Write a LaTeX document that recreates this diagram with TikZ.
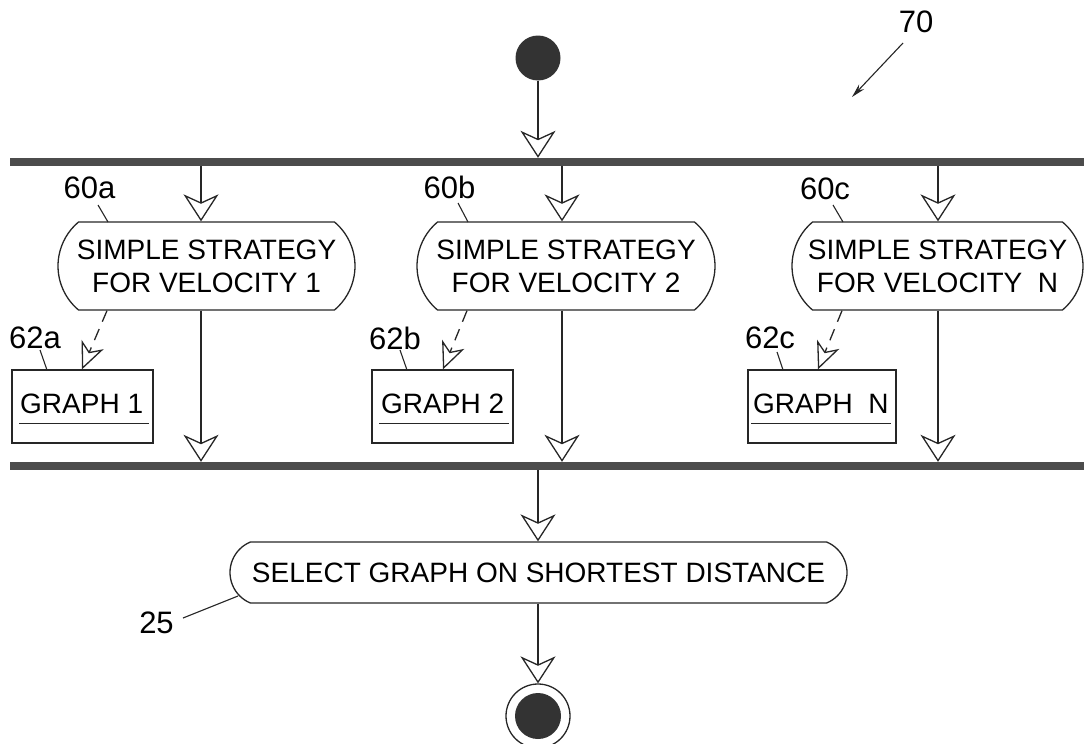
\documentclass[tikz,border=0pt]{standalone}
\usepackage{fontspec}
\setmainfont{Liberation Sans}
\usetikzlibrary{arrows.meta,shapes.misc,calc}
\begin{document}
\begin{tikzpicture}[x=1pt,y=-1pt,
  every node/.style={font=\fontsize{28}{33}\selectfont,inner sep=0pt},
  ln/.style={line width=1.3pt,black!85},
  barnode/.style={rectangle,fill=black!70,minimum height=8pt,minimum width=1074pt,anchor=west},
  flow/.style={ln,-{Stealth[open,length=27pt,width=35pt,inset=8pt,line width=1.3pt]}},
  dflow/.style={ln,dash pattern=on 12pt off 8pt,-{Stealth[open,length=27pt,width=24pt,inset=8pt,line width=1.3pt]}},
  stadium/.style={ln,draw,rounded rectangle,rounded rectangle arc length=100,minimum height=88pt,align=center,text=black},
  gbox/.style={ln,draw,rectangle,minimum width=141pt,minimum height=73pt},
  lead/.style={line width=1.1pt,black!85},
  refnum/.style={font=\fontsize{31}{33}\selectfont},
]
\useasboundingbox (0,0) rectangle (1084,744);

% column axes
\coordinate (x0) at (538,0);
\coordinate (x1) at (201,0);
\coordinate (x2) at (562,0);
\coordinate (x3) at (938,0);
\coordinate (d1a) at (107,0); \coordinate (d1b) at (82,0);
\coordinate (d2a) at (467,0); \coordinate (d2b) at (443,0);
\coordinate (d3a) at (842,0); \coordinate (d3b) at (818,0);

% start
\node[circle,fill=black!80,minimum size=45pt] (start) at (538,58) {};

% bars
\node[barnode] (top) at (10,162) {};
\node[barnode] (bot) at (10,466) {};

% activities
\node[stadium,minimum width=297pt] (n1) at (206.5,266) {SIMPLE STRATEGY\\FOR VELOCITY 1};
\node[stadium,minimum width=298pt] (n2) at (566,266) {SIMPLE STRATEGY\\FOR VELOCITY 2};
\node[stadium,minimum width=291pt] (n3) at (937.5,266) {SIMPLE STRATEGY\\FOR VELOCITY\ \ N};

% graph boxes
\node[gbox] (g1) at (82.5,406.5) {};
\node[gbox,minimum width=141pt] (g2) at (442.5,406.5) {};
\node[gbox,minimum width=148pt] (g3) at (822,406.5) {};
\node[anchor=base west] (gt1) at (20,413) {GRAPH 1};
\node[anchor=base west] (gt2) at (381,413) {GRAPH 2};
\node[anchor=base west] (gt3) at (753,413) {GRAPH\ \ N};
\draw[ln] ($(g1.south west)+(8,-20)$) -- ($(g1.south east)+(-5,-20)$);
\draw[ln] ($(g2.south west)+(8,-20)$) -- ($(g2.south east)+(-5,-20)$);
\draw[ln] ($(g3.south west)+(4,-20)$) -- ($(g3.south east)+(-6,-20)$);

% select
\node[stadium,minimum width=617pt,minimum height=61pt,rounded rectangle arc length=135] (sel) at (538.5,572.5) {SELECT GRAPH ON SHORTEST DISTANCE};

% end
\node[circle,ln,draw,minimum size=64pt] (endo) at (538,716) {};
\node[circle,fill=black!80,minimum size=46pt] (endi) at (538,716) {};

% flows
\draw[flow] (start.south) -- (top.north -| x0);
\draw[flow] (top.south -| x1) -- (n1.north -| x1);
\draw[flow] (top.south -| x2) -- (n2.north -| x2);
\draw[flow] (top.south -| x3) -- (n3.north -| x3);
\draw[flow] (n1.south -| x1) -- (bot.north -| x1);
\draw[flow] (n2.south -| x2) -- (bot.north -| x2);
\draw[flow] (n3.south -| x3) -- (bot.north -| x3);
\draw[dflow] (n1.south -| d1a) -- (g1.north -| d1b);
\draw[dflow] (n2.south -| d2a) -- (g2.north -| d2b);
\draw[dflow] (n3.south -| d3a) -- (g3.north -| d3b);
\draw[flow] (bot.south -| x0) -- (sel.north -| x0);
\draw[flow] (sel.south -| x0) -- (endo.north);

% reference labels
\node[refnum] (l60a) at (89.5,187.5) {60a};
\node[refnum] (l62a) at (35,337.5) {62a};
\node[refnum] (l60b) at (449.5,187.5) {60b};
\node[refnum] (l62b) at (395,338.5) {62b};
\node[refnum] (l60c) at (825,188.5) {60c};
\node[refnum] (l62c) at (770,337.5) {62c};
\node[refnum] (l25) at (156.5,623) {25};
\node[refnum] (l70) at (916,22) {70};
\draw[lead] (98,205) -- (108,222);
\draw[lead] (40,350) -- (47,370);
\draw[lead] (458,203) -- (468,222);
\draw[lead] (400,350) -- (407,370);
\draw[lead] (833,205) -- (843,222);
\draw[lead] (777,352) -- (783,370);
\draw[lead] (183,618) -- (238,596);
\draw[lead,-{Stealth[length=14pt,width=7pt]}] (903,43) -- (852,97);
\end{tikzpicture}
\end{document}
